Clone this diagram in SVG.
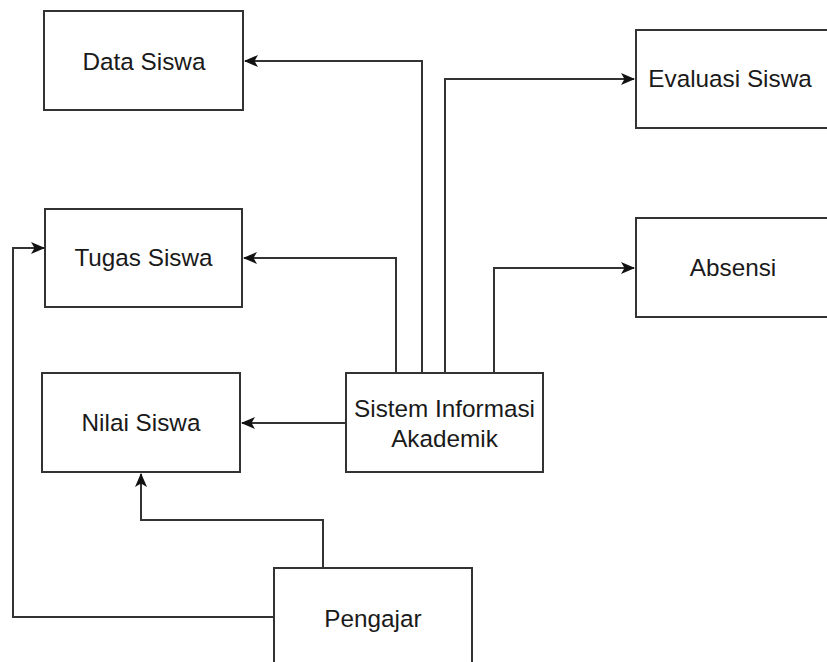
<svg xmlns="http://www.w3.org/2000/svg" width="827" height="662" viewBox="0 0 827 662">
<defs>
<style>
.box{fill:#fff;stroke:#333;stroke-width:2}
.lbl{font-family:'Liberation Sans',Arial,Helvetica,sans-serif;font-size:24.3px;fill:#1a1a1a;text-anchor:middle}
.edge{fill:none;stroke:#333;stroke-width:2}
</style>
<marker id="arr" viewBox="0 0 14 14" refX="13" refY="7" markerWidth="14" markerHeight="14" markerUnits="userSpaceOnUse" orient="auto">
<path d="M0,1 L14,7 L0,13 L3.5,7 Z" fill="#111"/>
</marker>
</defs>
<rect width="827" height="662" fill="#fff"/>
<g id="connectors">
<path class="edge" d="M422,373 V61 H245" marker-end="url(#arr)"/>
<path class="edge" d="M445,373 V79 H634" marker-end="url(#arr)"/>
<path class="edge" d="M396,373 V258 H244" marker-end="url(#arr)"/>
<path class="edge" d="M494,373 V268 H634" marker-end="url(#arr)"/>
<path class="edge" d="M346,423 H242" marker-end="url(#arr)"/>
<path class="edge" d="M323,568 V520 H141 V474" marker-end="url(#arr)"/>
<path class="edge" d="M274,617 H13 V248 H44" marker-end="url(#arr)"/>
</g>
<g id="data-siswa"><rect class="box" x="44" y="11" width="199" height="99"/><text class="lbl" x="144" y="70">Data Siswa</text></g>
<g id="tugas-siswa"><rect class="box" x="45" y="209" width="197" height="98"/><text class="lbl" x="143.5" y="266">Tugas Siswa</text></g>
<g id="nilai-siswa"><rect class="box" x="42" y="373" width="198" height="99"/><text class="lbl" x="141" y="431">Nilai Siswa</text></g>
<g id="evaluasi-siswa"><rect class="box" x="636" y="30" width="200" height="98"/><text class="lbl" x="730" y="87">Evaluasi Siswa</text></g>
<g id="absensi"><rect class="box" x="636" y="218" width="200" height="99"/><text class="lbl" x="733" y="276">Absensi</text></g>
<g id="sistem-informasi-akademik"><rect class="box" x="346" y="373" width="197" height="99"/><text class="lbl" x="444.5" y="417">Sistem Informasi</text><text class="lbl" x="444.5" y="447">Akademik</text></g>
<g id="pengajar"><rect class="box" x="274" y="568" width="198" height="100"/><text class="lbl" x="373" y="627">Pengajar</text></g>
</svg>
